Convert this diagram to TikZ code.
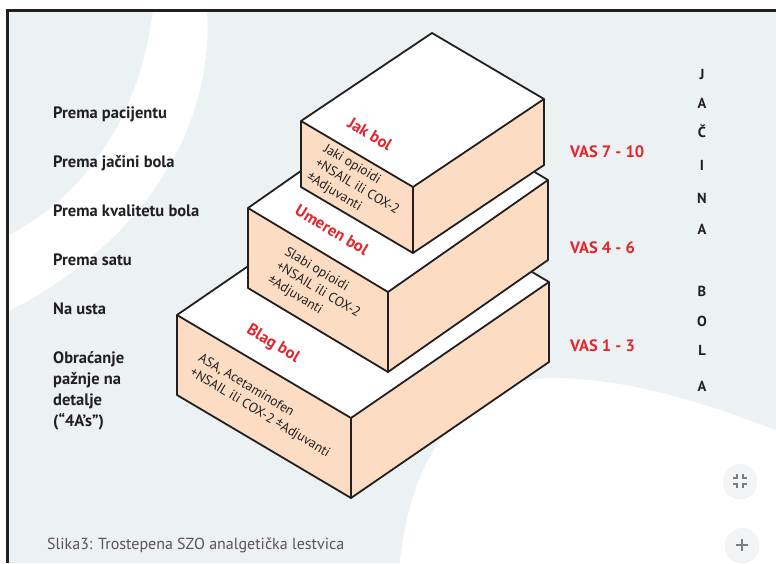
\documentclass[tikz,border=0pt]{standalone}
\usepackage{fontspec}
\setmainfont{PT Sans}
\usepackage{tikz}
\usetikzlibrary{positioning,calc,shadows}

\definecolor{bgblue}{HTML}{ECF1F4}
\definecolor{peach}{HTML}{FCDDC3}
\definecolor{inkdark}{HTML}{231F20}
\definecolor{vasred}{HTML}{E2262D}
\definecolor{captgrey}{HTML}{5E5252}
\definecolor{btngrey}{HTML}{F3F4F5}
\definecolor{icongrey}{HTML}{7A7C80}

\tikzset{
  sideface/.style={fill=peach},
  topface/.style={fill=white},
  boxedge/.style={draw=inkdark, line width=1.8pt, line join=round},
  sidelabel/.style={font=\fontsize{16.5}{20.7}\selectfont\bfseries, text=inkdark, inner sep=0pt, align=left},
  vaslabel/.style={font=\fontsize{16.5}{18}\selectfont\bfseries, text=vasred, inner sep=0pt, anchor=west},
  painlabel/.style={font=\fontsize{16.5}{18}\selectfont\bfseries, text=vasred, rotate=-31, inner sep=0pt},
  druglabel/.style={font=\fontsize{13.5}{16.5}\selectfont, text=inkdark, rotate=-31, align=left, inner sep=0pt},
  letter/.style={font=\fontsize{14.5}{16}\selectfont\bfseries, text=inkdark, inner sep=0pt},
  uibutton/.style={circle, fill=btngrey, minimum size=34pt, inner sep=0pt,
    drop shadow={opacity=0.15, shadow xshift=0pt, shadow yshift=-1pt}},
}

\begin{document}
\begin{tikzpicture}[x=1pt, y=-1pt]
  \useasboundingbox (0,0) rectangle (776,563);
  % background
  \fill[white] (0,0) rectangle (776,563);
  \fill[bgblue] (7,10) rectangle (776,563);
  \fill[white] (153,10) .. controls (140,120) and (80,200) .. (7,236) -- (7,312)
    .. controls (130,250) and (215,140) .. (207,10) -- cycle;
  \fill[white] (400,563) .. controls (410,450) and (470,380) .. (550,378)
    .. controls (640,378) and (720,410) .. (776,430) -- (776,563) -- cycle;
  \draw[inkdark, line width=3pt] (7.5,563) -- (7.5,10) -- (776,10);

  % bottom step
  \coordinate (bF) at (351,418);  \coordinate (bL) at (177,315);
  \coordinate (bR) at (549,282);  \coordinate (bB) at (375,179);
  \fill[topface] (bL) -- (bF) -- (bR) -- (bB) -- cycle;
  \fill[sideface] (bL) -- (bF) -- ++(0,80) -- ($(bL)+(0,80)$) -- cycle;
  \fill[sideface] (bF) -- (bR) -- ++(0,80) -- ($(bF)+(0,80)$) -- cycle;
  \draw[boxedge] (bF) -- (bL) -- (bB) -- (bR) -- cycle;
  \draw[boxedge] (bL) -- ++(0,80) -- ($(bF)+(0,80)$) -- ($(bR)+(0,80)$) -- (bR);
  \draw[boxedge] (bF) -- ++(0,80);

  % middle step
  \coordinate (mF) at (388,292);  \coordinate (mL) at (248,208);
  \coordinate (mR) at (548,180);  \coordinate (mB) at (408,96);
  \fill[topface] (mL) -- (mF) -- (mR) -- (mB) -- cycle;
  \fill[sideface] (mL) -- (mF) -- ++(0,80) -- ($(mL)+(0,80)$) -- cycle;
  \fill[sideface] (mF) -- (mR) -- ++(0,80) -- ($(mF)+(0,80)$) -- cycle;
  \draw[boxedge] (mF) -- (mL) -- (mB) -- (mR) -- cycle;
  \draw[boxedge] (mL) -- ++(0,80) -- ($(mF)+(0,80)$) -- ($(mR)+(0,80)$) -- (mR);
  \draw[boxedge] (mF) -- ++(0,80);

  % top step
  \coordinate (tF) at (413,187);  \coordinate (tL) at (301,121);
  \coordinate (tR) at (544,99);   \coordinate (tB) at (432,33);
  \fill[topface] (tL) -- (tF) -- (tR) -- (tB) -- cycle;
  \fill[sideface] (tL) -- (tF) -- ++(0,66) -- ($(tL)+(0,66)$) -- cycle;
  \fill[sideface] (tF) -- (tR) -- ++(0,66) -- ($(tF)+(0,66)$) -- cycle;
  \draw[boxedge] (tF) -- (tL) -- (tB) -- (tR) -- cycle;
  \draw[boxedge] (tL) -- ++(0,66) -- ($(tF)+(0,66)$) -- ($(tR)+(0,66)$) -- (tR);
  \draw[boxedge] (tF) -- ++(0,66);

  % texts on the steps
  \node[painlabel] (jak) at (370,134) {Jak bol};
  \node[painlabel] (umeren) at (332,230) {Umeren bol};
  \node[painlabel] (blag) at (273,344) {Blag bol};
  \node[druglabel] (jakLek) at (357,187) {Jaki opioidi\\+NSAIL ili COX-2\\±Adjuvanti};
  \node[druglabel] (umerenLek) at (318,290) {Slabi opioidi\\+NSAIL ili COX-2\\±Adjuvanti};
  \node[druglabel] (blagLek) at (264,406) {ASA, Acetaminofen\\+NSAIL ili COX-2 ±Adjuvanti};

  % left column
  \node[sidelabel, anchor=base west] (pacijent) at (53,118) {Prema pacijentu};
  \node[sidelabel, below=49pt of pacijent.base west, anchor=base west] (jacina) {Prema jačini bola};
  \node[sidelabel, below=49pt of jacina.base west, anchor=base west] (kvalitet) {Prema kvalitetu bola};
  \node[sidelabel, below=49pt of kvalitet.base west, anchor=base west] (sat) {Prema satu};
  \node[sidelabel, below=49pt of sat.base west, anchor=base west] (usta) {Na usta};
  \node[sidelabel, below=112pt of usta.base west, anchor=base west] (detalji) {Obraćanje\\pažnje na\\detalje\\(“4A’s”)};

  % VAS scale
  \node[vaslabel] (vasJak) at (570,152) {VAS 7 - 10};
  \node[vaslabel] (vasUmeren) at (570,248) {VAS 4 - 6};
  \node[vaslabel] (vasBlag) at (570,346) {VAS 1 - 3};

  % vertical word
  \foreach \ch/\yy [count=\k] in {J/75,A/103,Č/131,I/165,N/198,A/229,B/291,O/321,L/350,A/386}
    \node[letter] (slovo\k) at (702,\yy) {\ch};

  \node[anchor=west, inner sep=0pt, font=\fontsize{16}{18}\selectfont, text=captgrey] (slika) at (47,545)
    {Slika3: Trostepena SZO analgetička lestvica};

  % viewer buttons
  \node[uibutton] (btnFit) at (740,481) {};
  \node[uibutton] (btnPlus) at (742,545) {};
  \draw[icongrey, line width=1.1pt]
    ($(btnFit)+(-7,-3)$) -- ($(btnFit)+(-3,-3)$) -- ($(btnFit)+(-3,-7)$)
    ($(btnFit)+(7,-3)$) -- ($(btnFit)+(3,-3)$) -- ($(btnFit)+(3,-7)$)
    ($(btnFit)+(-7,3)$) -- ($(btnFit)+(-3,3)$) -- ($(btnFit)+(-3,7)$)
    ($(btnFit)+(7,3)$) -- ($(btnFit)+(3,3)$) -- ($(btnFit)+(3,7)$);
  \draw[icongrey, line width=1.3pt] ($(btnPlus)+(-6,0)$) -- ($(btnPlus)+(6,0)$)
    ($(btnPlus)+(0,-6)$) -- ($(btnPlus)+(0,6)$);
\end{tikzpicture}
\end{document}
